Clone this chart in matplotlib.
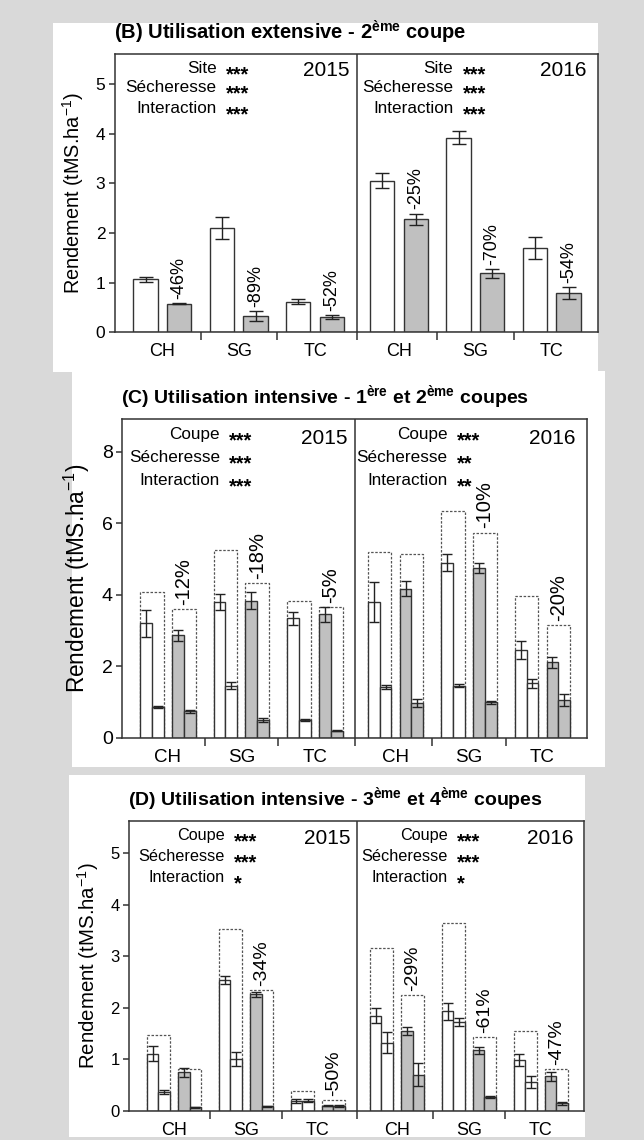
import matplotlib
matplotlib.use("Agg")
import matplotlib.pyplot as plt
from matplotlib.patches import Rectangle
import numpy as np

plt.rcParams["font.family"] = ["Liberation Sans", "DejaVu Sans"]
plt.rcParams["mathtext.default"] = "regular"

W, H = 644, 1140
EDGE = "#333333"
GRIS = "#c0c0c0"
FOND = "#d9d9d9"

sites = ["CH", "SG", "TC"]
annees = ["2015", "2016"]

# (B) utilisation extensive, 2eme coupe : temoin / secheresse (2015 CH SG TC, 2016 CH SG TC)
b_temoin = [1.07, 2.10, 0.62, 3.05, 3.92, 1.70]
b_temoin_err = [0.05, 0.22, 0.05, 0.15, 0.13, 0.22]
b_sech = [0.58, 0.33, 0.30, 2.28, 1.19, 0.79]
b_sech_err = [0.01, 0.10, 0.04, 0.11, 0.09, 0.12]
b_pct = ["-46%", "-89%", "-52%", "-25%", "-70%", "-54%"]
b_effets = ["Site", "Sécheresse", "Interaction"]
b_sig = [["***", "***", "***"], ["***", "***", "***"]]

# (C) utilisation intensive, 1ere et 2eme coupes
c_temoin1 = [3.20, 3.80, 3.34, 3.79, 4.90, 2.45]
c_temoin1_err = [0.37, 0.23, 0.18, 0.56, 0.23, 0.26]
c_temoin2 = [0.87, 1.46, 0.49, 1.41, 1.45, 1.52]
c_temoin2_err = [0.03, 0.09, 0.02, 0.06, 0.04, 0.12]
c_sech1 = [2.87, 3.84, 3.45, 4.17, 4.75, 2.11]
c_sech1_err = [0.15, 0.25, 0.22, 0.21, 0.15, 0.16]
c_sech2 = [0.74, 0.49, 0.20, 0.97, 0.99, 1.05]
c_sech2_err = [0.04, 0.06, 0.02, 0.10, 0.04, 0.16]
c_pct = ["-12%", "-18%", "-5%", "", "-10%", "-20%"]
c_effets = ["Coupe", "Sécheresse", "Interaction"]
c_sig = [["***", "***", "***"], ["***", "**", "**"]]

# (D) utilisation intensive, 3eme et 4eme coupes
d_temoin1 = [1.11, 2.54, 0.19, 1.85, 1.93, 0.98]
d_temoin1_err = [0.15, 0.08, 0.04, 0.15, 0.16, 0.12]
d_temoin2 = [0.36, 1.00, 0.19, 1.32, 1.72, 0.56]
d_temoin2_err = [0.04, 0.14, 0.03, 0.20, 0.08, 0.11]
d_sech1 = [0.745, 2.26, 0.10, 1.55, 1.17, 0.67]
d_sech1_err = [0.09, 0.05, 0.01, 0.08, 0.07, 0.09]
d_sech2 = [0.065, 0.09, 0.10, 0.70, 0.26, 0.14]
d_sech2_err = [0.01, 0.01, 0.02, 0.22, 0.02, 0.02]
d_pct = ["", "-34%", "-50%", "-29%", "-61%", "-47%"]
d_effets = ["Coupe", "Sécheresse", "Interaction"]
d_sig = [["***", "***", "*"], ["***", "***", "*"]]

centres = np.r_[np.arange(3), np.arange(3) + 3.1]
SEP = 2.55


def boite(x0, y0, x1, y1):
    # coordonnees pixel (origine en haut a gauche) -> fraction de figure
    return [x0 / W, 1 - y1 / H, (x1 - x0) / W, (y1 - y0) / H]


def fond_blanc(fig, x0, y0, x1, y1):
    fig.add_artist(Rectangle((x0 / W, 1 - y1 / H), (x1 - x0) / W, (y1 - y0) / H,
                             transform=fig.transFigure, facecolor="white",
                             edgecolor="none", zorder=0))


def habiller(ax, ymax, yticks, titre, effets, sig, fs):
    ax.set_xlim(-0.62, 5.70)
    ax.set_ylim(0, ymax)
    ax.set_yticks(yticks)
    ax.set_xticks(centres)
    ax.set_xticklabels(sites * 2)
    ax.set_xticks([0.5, 1.5, SEP, 3.6, 4.6], minor=True)
    ax.tick_params(axis="x", which="major", length=0, pad=8, labelsize=fs["xt"])
    ax.tick_params(axis="x", which="minor", length=5.5, width=1.1, color=EDGE)
    ax.tick_params(axis="y", length=4, width=1.1, color=EDGE, pad=3, labelsize=fs["yt"])
    for sp in ax.spines.values():
        sp.set_color(EDGE)
        sp.set_linewidth(1.1)
    ax.axvline(SEP, color=EDGE, lw=1.1)
    ax.set_ylabel("Rendement (tMS.ha$^{-1}$)", fontsize=fs["yl"], labelpad=7)
    ax.annotate(titre, xy=(0, 1), xycoords="axes fraction", xytext=(-1, 15.5),
                textcoords="offset points", ha="left", va="center",
                fontsize=fs["ti"], fontweight="bold")
    tr = ax.get_xaxis_transform()
    rangs = [0.95, 0.879, 0.806]
    for k, x0 in enumerate([0, 3.1]):
        for j, nom in enumerate(effets):
            ax.text(x0 + 0.71, rangs[j], nom, transform=tr, ha="right",
                    va="center", fontsize=fs["st"])
            # asterisques centrees sur la hauteur des minuscules
            ax.annotate(sig[k][j], xy=(x0 + 0.83, rangs[j]), xycoords=tr,
                        xytext=(0, -4.6), textcoords="offset points",
                        ha="left", va="center", fontsize=14.5, fontweight="bold")
        ax.text(x0 + 2.45, 0.94, annees[k], transform=tr, ha="right",
                va="center", fontsize=fs["an"])


def barres_coupes(ax, t1, t1e, t2, t2e, s1, s1e, s2, s2e, pct, fs_pct, cap):
    w = 0.161
    d1, d2 = 0.297, 0.136
    err = dict(ecolor="#222222", elinewidth=1, capthick=1, capsize=cap)
    # enveloppes pointillees = somme des deux coupes
    tot_t = np.add(t1, t2)
    tot_s = np.add(s1, s2)
    for xs, tot in [(centres - (d1 + d2) / 2, tot_t), (centres + (d1 + d2) / 2, tot_s)]:
        ax.bar(xs, tot, 2 * w, fill=False, edgecolor="#555555",
               linestyle=(0, (2, 1.3)), lw=0.9, zorder=1)
    ax.bar(centres - d1, t1, w, yerr=t1e, color="white", edgecolor=EDGE, lw=1,
           error_kw=err, zorder=2)
    ax.bar(centres - d2, t2, w, yerr=t2e, color="white", edgecolor=EDGE, lw=1,
           error_kw=err, zorder=2)
    ax.bar(centres + d2, s1, w, yerr=s1e, color=GRIS, edgecolor=EDGE, lw=1,
           error_kw=err, zorder=2)
    ax.bar(centres + d1, s2, w, yerr=s2e, color=GRIS, edgecolor=EDGE, lw=1,
           error_kw=err, zorder=2)
    for x, y, txt in zip(centres + (d1 + d2) / 2, tot_s, pct):
        if txt:
            ax.annotate(txt, xy=(x, y), xytext=(0, 3), textcoords="offset points",
                        rotation=90, ha="center", va="bottom", fontsize=fs_pct)


fig = plt.figure(figsize=(W / 100, H / 100), dpi=100, facecolor=FOND)

# ---- panneau B
fond_blanc(fig, 53.4, 23.3, 597.6, 371.7)
axb = fig.add_axes(boite(115, 54.3, 597.6, 332.3))
err_b = dict(ecolor="#222222", elinewidth=1, capthick=1, capsize=5.2)
axb.bar(centres - 0.22, b_temoin, 0.32, yerr=b_temoin_err, color="white",
        edgecolor=EDGE, lw=1, error_kw=err_b)
axb.bar(centres + 0.22, b_sech, 0.32, yerr=b_sech_err, color=GRIS,
        edgecolor=EDGE, lw=1, error_kw=err_b)
for x, y, e, txt in zip(centres + 0.22, b_sech, b_sech_err, b_pct):
    axb.annotate(txt, xy=(x, y + e), xytext=(0, 3), textcoords="offset points",
                 rotation=90, ha="center", va="bottom", fontsize=13)
habiller(axb, 5.6, range(6), "(B) Utilisation extensive - 2$^{ème}$ coupe",
         b_effets, b_sig, dict(xt=13, yt=12.5, yl=14.3, ti=14.5, st=12.3, an=15))

# ---- panneau C
fond_blanc(fig, 71.9, 371, 604.5, 766.7)
axc = fig.add_axes(boite(122.4, 419, 586.5, 737.7))
barres_coupes(axc, c_temoin1, c_temoin1_err, c_temoin2, c_temoin2_err,
              c_sech1, c_sech1_err, c_sech2, c_sech2_err, c_pct, 14.5, 3.6)
habiller(axc, 8.92, range(0, 9, 2),
         "(C) Utilisation intensive - 1$^{ère}$ et 2$^{ème}$ coupes",
         c_effets, c_sig, dict(xt=13.5, yt=14, yl=16.3, ti=14, st=12.3, an=15))

# ---- panneau D
fond_blanc(fig, 69, 775, 585.2, 1136.7)
axd = fig.add_axes(boite(129.4, 821, 584, 1110.7))
barres_coupes(axd, d_temoin1, d_temoin1_err, d_temoin2, d_temoin2_err,
              d_sech1, d_sech1_err, d_sech2, d_sech2_err, d_pct, 14, 3.4)
habiller(axd, 5.63, range(6),
         "(D) Utilisation intensive - 3$^{ème}$ et 4$^{ème}$ coupes",
         d_effets, d_sig, dict(xt=13, yt=12, yl=14.7, ti=14, st=11.7, an=15))

fig.savefig("out.png", dpi=100, facecolor=FOND)
